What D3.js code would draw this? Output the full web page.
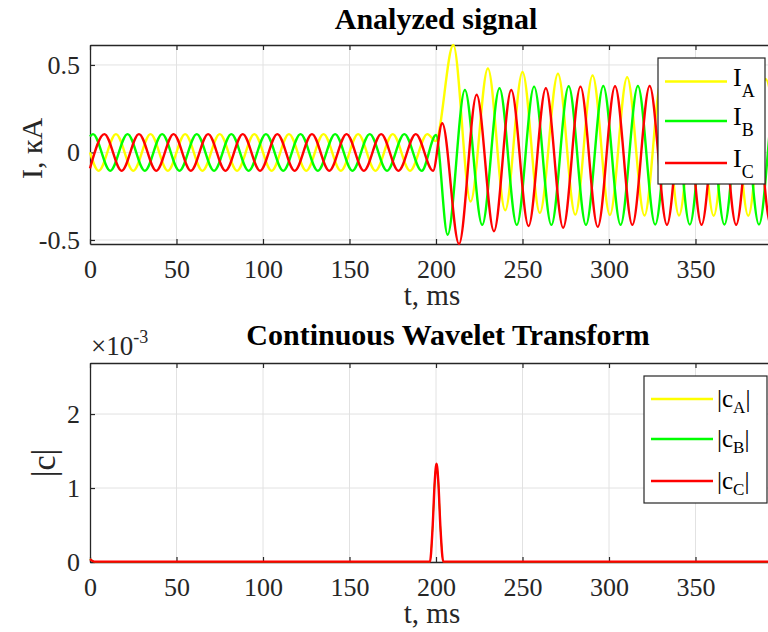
<!DOCTYPE html>
<html lang="en">
<head>
    <meta charset="UTF-8">
    <title>Analyzed signal / CWT</title>
    <script src="https://d3js.org/d3.v7.min.js"></script>
    <style>
        body { margin: 0; background: #ffffff; }
        svg { display: block; }
        svg text { font-family: "Liberation Serif", "Times New Roman", serif; }
        .tick line { stroke: #262626; }
        .domain { stroke: #262626; }
    </style>
</head>
<body>
<div id="chart"></div>
<script>
    // ---- data (extrema of each phase current, kA) ----
    const xTicks = [0, 50, 100, 150, 200, 250, 300, 350, 400];
    const xLabels = [0, 50, 100, 150, 200, 250, 300, 350];
    const iTicks = [-0.5, 0, 0.5];
    const cTicks = [0, 1, 2];

    const iA = [[0,0],[5,-0.105],[15,0.105],[25,-0.105],[35,0.105],[45,-0.105],[55,0.105],[65,-0.105],[75,0.105],
        [85,-0.105],[95,0.105],[105,-0.105],[115,0.105],[125,-0.105],[135,0.105],[145,-0.105],[155,0.105],
        [165,-0.105],[175,0.105],[185,-0.105],[195,0.105],[199.8,0.065],[210,0.614],[220,-0.28],[230,0.48],
        [240,-0.33],[250,0.46],[260,-0.345],[270.5,0.45],[280.5,-0.355],[290.5,0.44],[300.5,-0.357],[310.5,0.43],
        [320.5,-0.36],[330.5,0.425],[340.5,-0.36],[350.5,0.42],[360.5,-0.362],[370.5,0.42],[380.5,-0.362],
        [390.5,0.42],[400,-0.34]];
    const iB = [[0,0.091],[1.7,0.105],[11.7,-0.105],[21.7,0.105],[31.7,-0.105],[41.7,0.105],[51.7,-0.105],[61.7,0.105],
        [71.7,-0.105],[81.7,0.105],[91.7,-0.105],[101.7,0.105],[111.7,-0.105],[121.7,0.105],[131.7,-0.105],
        [141.7,0.105],[151.7,-0.105],[161.7,0.105],[171.7,-0.105],[181.7,0.105],[191.7,-0.105],[200,0.1],
        [206.7,-0.47],[216.7,0.357],[226.7,-0.414],[236.7,0.367],[246.7,-0.414],[256.7,0.376],[266.7,-0.414],
        [276.7,0.378],[286.7,-0.414],[296.7,0.38],[306.7,-0.414],[316.7,0.38],[326.7,-0.412],[336.7,0.38],
        [346.7,-0.412],[356.7,0.38],[366.7,-0.412],[376.7,0.38],[386.7,-0.412],[396.7,0.38],[400,0.3]];
    const iC = [[0,-0.091],[8.3,0.105],[18.3,-0.105],[28.3,0.105],[38.3,-0.105],[48.3,0.105],[58.3,-0.105],
        [68.3,0.105],[78.3,-0.105],[88.3,0.105],[98.3,-0.105],[108.3,0.105],[118.3,-0.105],[128.3,0.105],
        [138.3,-0.105],[148.3,0.105],[158.3,-0.105],[168.3,0.105],[178.3,-0.105],[188.3,0.105],[198.3,-0.105],
        [203.6,0.167],[213.3,-0.523],[223.5,0.33],[233.5,-0.45],[243.5,0.357],[253.5,-0.42],[263.5,0.367],
        [273.5,-0.43],[283.5,0.376],[293.5,-0.425],[303.5,0.378],[313.5,-0.414],[323.5,0.38],[333.5,-0.414],
        [343.5,0.38],[353.5,-0.414],[363.5,0.38],[373.5,-0.414],[383.5,0.38],[393.5,-0.414],[400,0.2]];

    // |c| in units of 1e-3 (all three phases lie on top of each other)
    const cA = [[0,0.04],[2.5,0.005],[196.5,0.005],[198,0.45],[199.3,1.1],[200.3,1.33],[201.3,1.1],[202.6,0.45],[204.2,0.005],[400,0.005]];
    const cB = cA;
    const cC = cA;

    const names = ["A", "B", "C"];
    const colors = ["#ffff00", "#00ff00", "#ff0000"];

    const width = 768, height = 632;
    const svg = d3.select("#chart").append("svg")
        .attr("width", width)
        .attr("height", height);

    const x = d3.scaleLinear().domain([0, 400]).range([90, 782]);
    const yTop = d3.scaleLinear().domain([-0.523, 0.614]).range([244, 45]);
    const yBot = d3.scaleLinear().domain([0, 2.69]).range([562, 363]);

    const axisColor = "#262626";
    const gridColor = "#e2e2e2";

    function drawPanel(y, yTickVals, series, opts) {
        const g = svg.append("g");
        const [y0, y1] = y.range();

        // grid
        g.append("g").selectAll("line").data(xTicks.slice(1)).enter().append("line")
            .attr("x1", d => x(d)).attr("x2", d => x(d))
            .attr("y1", y1).attr("y2", y0)
            .attr("stroke", gridColor).attr("stroke-width", 1);
        g.append("g").selectAll("line").data(yTickVals).enter().append("line")
            .attr("x1", x.range()[0]).attr("x2", x.range()[1])
            .attr("y1", d => y(d)).attr("y2", d => y(d))
            .attr("stroke", gridColor).attr("stroke-width", 1);

        // axes (ticks point inward, MATLAB style)
        const bottom = g.append("g").attr("transform", `translate(0,${y0})`)
            .call(d3.axisBottom(x).tickValues(xTicks).tickSizeInner(-5).tickSizeOuter(0)
                .tickFormat(d => xLabels.includes(d) ? String(d) : ""));
        bottom.selectAll("text").attr("y", 34).attr("dy", null);
        const top = g.append("g").attr("transform", `translate(0,${y1})`)
            .call(d3.axisTop(x).tickValues(xTicks).tickSizeInner(-5).tickSizeOuter(0).tickFormat(""));
        const left = g.append("g").attr("transform", `translate(${x.range()[0]},0)`)
            .call(d3.axisLeft(y).tickValues(yTickVals).tickSizeInner(-5).tickSizeOuter(0)
                .tickFormat(d => String(d)));
        left.selectAll("text").attr("x", -10);
        [bottom, top, left].forEach(a => {
            a.attr("font-family", null).attr("font-size", 26);
            a.selectAll("text").attr("fill", axisColor);
            a.select(".domain").attr("stroke-width", 1.3);
            a.selectAll(".tick line").attr("stroke-width", 1.2);
        });

        // lines
        const line = d3.line().x(d => x(d[0])).y(d => y(d[1])).curve(d3.curveMonotoneX);
        series.forEach((s, i) => {
            g.append("path").datum(s)
                .attr("d", line)
                .attr("fill", "none")
                .attr("stroke", colors[i])
                .attr("stroke-width", i < 2 ? opts.underWidth : 2.4)
                .attr("stroke-linejoin", "round");
        });

        // title & labels
        g.append("text").attr("x", opts.titleX).attr("y", opts.titleY)
            .attr("text-anchor", "middle").attr("font-weight", "bold").attr("font-size", 30)
            .attr("fill", "#000").text(opts.title);
        g.append("text").attr("x", 432).attr("y", y0 + 61)
            .attr("text-anchor", "middle").attr("font-size", 29).attr("fill", axisColor).text("t, ms");

        // legend
        const lg = g.append("g");
        lg.append("rect").attr("x", opts.legend.x).attr("y", opts.legend.y)
            .attr("width", opts.legend.w).attr("height", opts.legend.h)
            .attr("fill", "#fff").attr("stroke", axisColor).attr("stroke-width", 1.2);
        opts.legend.rows.forEach((ry, i) => {
            lg.append("line")
                .attr("x1", opts.legend.lx1).attr("x2", opts.legend.lx2)
                .attr("y1", ry).attr("y2", ry)
                .attr("stroke", colors[i]).attr("stroke-width", 2.4);
            opts.legend.label(lg, ry, names[i]);
        });
        return g;
    }

    // top panel: analyzed signal
    drawPanel(yTop, iTicks, [iA, iB, iC], {
        title: "Analyzed signal", titleX: 436, titleY: 29, underWidth: 2.4,
        legend: {
            x: 658, y: 58, w: 107, h: 126, lx1: 665, lx2: 727, rows: [81.5, 121, 163],
            label: (lg, ry, n) => {
                const t = lg.append("text").attr("x", 733).attr("y", ry + 4)
                    .attr("font-size", 26).attr("fill", "#000");
                t.append("tspan").text("I");
                t.append("tspan").attr("font-size", 18).attr("dy", 11).text(n);
            }
        }
    });

    // bottom panel: CWT coefficients
    drawPanel(yBot, cTicks, [cA, cB, cC], {
        title: "Continuous Wavelet Transform", titleX: 448, titleY: 345, underWidth: 1.4,
        legend: {
            x: 644, y: 376, w: 123, h: 127, lx1: 651, lx2: 713, rows: [399, 439, 481],
            label: (lg, ry, n) => {
                const t = lg.append("text").attr("x", 717).attr("y", ry + 8)
                    .attr("font-size", 25).attr("fill", "#000");
                t.append("tspan").text("|c");
                t.append("tspan").attr("font-size", 17).attr("dy", 6).text(n);
                t.append("tspan").attr("dy", -6).text("|");
            }
        }
    });

    // y labels
    svg.append("text").attr("transform", "translate(42,148.5) rotate(-90)")
        .attr("text-anchor", "middle").attr("font-size", 30).attr("fill", axisColor).text("I, кА");
    svg.append("text").attr("transform", "translate(55,463) rotate(-90)")
        .attr("text-anchor", "middle").attr("font-size", 34).attr("fill", axisColor).text("|c|");

    // exponent label
    const ex = svg.append("text").attr("x", 91).attr("y", 355)
        .attr("font-size", 27).attr("fill", axisColor);
    ex.append("tspan").text("×10");
    ex.append("tspan").attr("font-size", 18).attr("dy", -12).text("-3");
</script>
</body>
</html>
